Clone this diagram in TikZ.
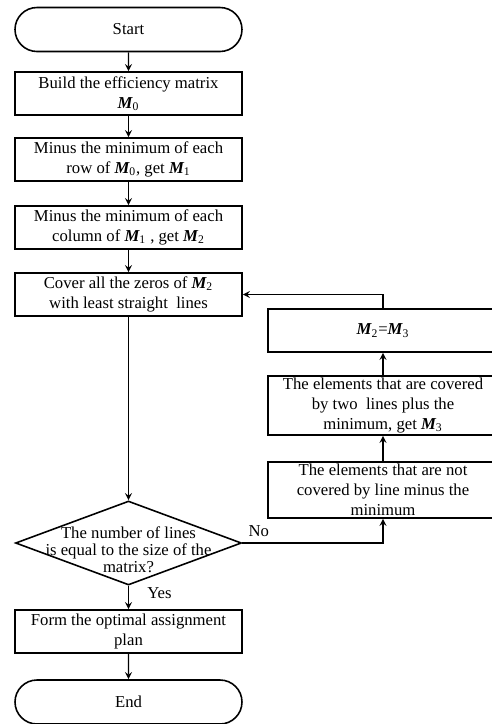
\documentclass[tikz,border=0pt]{standalone}
\usepackage{fontspec}
\setmainfont{Liberation Serif}
\usepackage{tikz}
\usetikzlibrary{
    arrows,
    shapes,
    shapes.geometric,
    shapes.misc
}
\newcommand{\matM}[1]{{\bfseries\itshape M}\textsubscript{#1}}

\begin{document}
\fontsize{9.5}{11.4}\selectfont
\begin{tikzpicture}[
    box/.style={draw, rectangle, align=center, minimum width=4.54cm, minimum height=0.86cm, inner sep=0cm, line width=0.9pt},
    terminal/.style={draw, rounded rectangle, align=center, minimum width=4.54cm, minimum height=0.88cm, inner sep=0cm, line width=0.9pt},
    decision/.style={draw, diamond, minimum width=4.52cm, minimum height=1.68cm, inner sep=0cm, line width=0.9pt},
    flow/.style={->, >=stealth, line width=0.8pt}
]
                \clip (0, 0) rectangle (9.84, -14.48);

                \node[terminal] (start) at (2.57, -0.59) {Start};
                \node[box] (build) at (2.57, -1.87) {Build the efficiency matrix\\ \matM{0}};
                \node[box] (row min) at (2.57, -3.19) {Minus the minimum of each\\ row of \matM{0}, get \matM{1}};
                \node[box] (col min) at (2.57, -4.55) {Minus the minimum of each\\ column of \matM{1} , get \matM{2}};
                \node[box] (cover) at (2.57, -5.89) {Cover all the zeros of \matM{2}\\ with least straight\ \ lines};

                \node[decision] (check) at (2.57, -10.86) {};
                \node[align=center, inner sep=0cm, font=\fontsize{9.5}{9.7}\selectfont] (check text) at (2.57, -11.0) {The number of lines\\ is equal to the size of the\\ matrix?};

                \node[box] (plan) at (2.57, -12.63) {Form the optimal assignment\\ plan};
                \node[terminal] (end) at (2.57, -14.04) {End};

                \node[box, minimum width=4.6cm] (update) at (7.66, -6.61) {\matM{2}=\matM{3}};
                \node[box, minimum width=4.6cm, minimum height=1.18cm] (plus min) at (7.66, -8.11) {The elements that are covered\\ by two\ \ lines plus the\\ minimum, get \matM{3}};
                \node[box, minimum width=4.6cm, minimum height=1.12cm] (minus min) at (7.66, -9.80) {The elements that are not\\ covered by line minus the\\ minimum};

                \draw[flow] (start)--(build);
                \draw[flow] (build)--(row min);
                \draw[flow] (row min)--(col min);
                \draw[flow] (col min)--(cover);
                \draw[flow] (cover)--(check);
                \draw[flow] (check)--node[right, xshift=0.25cm, pos=0.3] {Yes} (plan);
                \draw[flow] (plan)--(end);

                \draw[flow] (check.east) -| node[above right, pos=0] {No} (minus min.south);
                \draw[flow] (minus min)--(plus min);
                \draw[flow] (plus min)--(update);
                \draw[flow] (update.north) |- (cover.east);
\end{tikzpicture}
\end{document}
